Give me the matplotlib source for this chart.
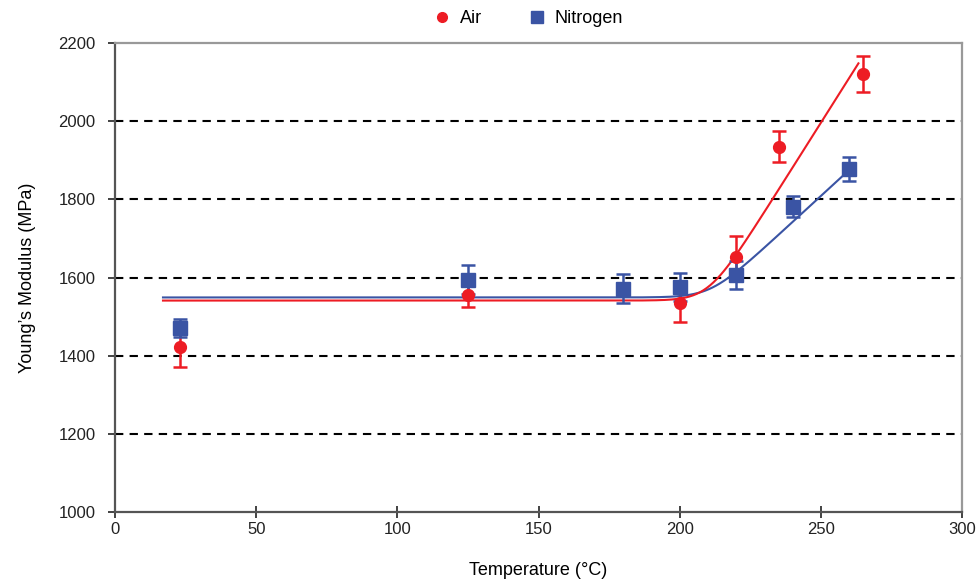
import numpy as np
import matplotlib
matplotlib.use("Agg")
import matplotlib.pyplot as plt
from matplotlib.lines import Line2D

plt.rcParams["font.family"] = ["Liberation Sans", "DejaVu Sans"]

# measured moduli (MPa) with standard deviations
air_T = [23, 125, 200, 220, 235, 265]
air_E = [1422, 1555, 1535, 1653, 1935, 2120]
air_err = [50, 30, 48, 53, 40, 46]

n2_T = [23, 125, 180, 200, 220, 240, 260]
n2_E = [1471, 1594, 1571, 1576, 1606, 1781, 1877]
n2_err = [22, 37, 37, 36, 36, 27, 31]

# bilinear fits: plateau, onset temperature, slope above onset, smoothing width, T range
air_fit = dict(E0=1541, T0=210.2, k=11.43, w=4.5, Tmin=17, Tmax=263.3)
n2_fit = dict(E0=1549, T0=210.9, k=6.64, w=5.0, Tmin=17, Tmax=257.4)

RED = "#ED1C24"
BLUE = "#3A54A4"


def fit_curve(p):
    T = np.linspace(p["Tmin"], p["Tmax"], 400)
    soft = p["w"] * np.logaddexp(0, (T - p["T0"]) / p["w"])
    return T, p["E0"] + p["k"] * soft


fig = plt.figure(figsize=(9.77, 5.79), dpi=100)
ax = fig.add_axes([0.1177, 0.1157, 0.8670, 0.8100])

for y in range(1200, 2001, 200):
    ax.axhline(y, color="black", lw=1.5, ls=(0, (4, 3)), zorder=1)

T, E = fit_curve(n2_fit)
ax.plot(T, E, color=BLUE, lw=1.5, zorder=2)
T, E = fit_curve(air_fit)
ax.plot(T, E, color=RED, lw=1.5, zorder=2)

# error bars underneath, then the markers
ebkw = dict(fmt="none", capsize=5, elinewidth=1.8, capthick=1.8, zorder=3)
ax.errorbar(air_T, air_E, yerr=air_err, ecolor=RED, **ebkw)
ax.errorbar(n2_T, n2_E, yerr=n2_err, ecolor=BLUE, **ebkw)
ax.plot(n2_T, n2_E, "s", color=BLUE, ms=10, zorder=4)
ax.plot(air_T, air_E, "o", color=RED, ms=8.5, zorder=5)

ax.set_xlim(0, 300)
ax.set_ylim(1000, 2200)
ax.set_xticks(range(0, 301, 50))
ax.set_yticks(range(1000, 2201, 200))
ax.tick_params(axis="both", labelsize=12, colors="#222222", length=5, width=1.2)
ax.tick_params(axis="x", direction="inout", length=8)
ax.tick_params(axis="y", pad=9)
for s in ("left", "bottom"):
    ax.spines[s].set_color("#555555")
    ax.spines[s].set_linewidth(1.6)
for s in ("top", "right"):
    ax.spines[s].set_color("#999999")
    ax.spines[s].set_linewidth(1.6)

ax.set_xlabel("Temperature (°C)", fontsize=13, labelpad=18)
ax.set_ylabel("Young\u2019s Modulus (MPa)", fontsize=13, labelpad=16)

handles = [Line2D([], [], marker="o", color=RED, ls="", ms=7),
           Line2D([], [], marker="s", color=BLUE, ls="", ms=8)]
fig.legend(handles, ["Air", "Nitrogen"], loc="upper center", bbox_to_anchor=(0.536, 1.01),
           ncol=2, frameon=False, fontsize=13, handletextpad=0.0, columnspacing=2.0)

fig.savefig("out.png", dpi=100)
